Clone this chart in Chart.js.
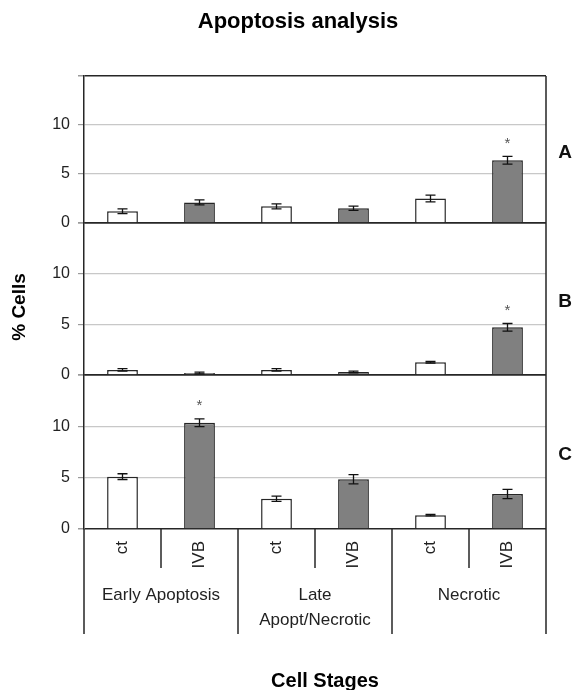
<!DOCTYPE html>
<html>
<head>
<meta charset="utf-8">
<script src="https://cdn.jsdelivr.net/npm/chart.js@4"></script>
<style>
  html, body { margin: 0; padding: 0; background: #fff; }
  canvas { display: block; }
</style>
</head>
<body>
<canvas id="chart" width="574" height="690"></canvas>
<script>
// Bar labels along the x axis and the stage groups under them
const categories = ['ct', 'IVB', 'ct', 'IVB', 'ct', 'IVB'];
const groups = [['Early Apoptosis'], ['Late', 'Apopt/Necrotic'], ['Necrotic']];

// % cells per panel (A, B, C) with error bar half-widths
const panelA = [1.2, 2.1, 1.7, 1.5, 2.5, 6.4];
const errA = [0.25, 0.25, 0.25, 0.22, 0.35, 0.4];
const panelB = [0.5, 0.2, 0.5, 0.3, 1.25, 4.7];
const errB = [0.12, 0.08, 0.12, 0.08, 0.08, 0.38];
const panelC = [5.1, 10.35, 2.95, 4.85, 1.35, 3.4];
const errC = [0.28, 0.37, 0.25, 0.45, 0.07, 0.45];

// bars marked with a significance asterisk
const starsA = [5];
const starsB = [5];
const starsC = [1];

const yTicks = [0, 5, 10, 15];

const FONT = '"Liberation Sans", Arial, sans-serif';
const dark = '#262626';
const barFill = categories.map((c) => c === 'ct' ? '#ffffff' : '#808080');

const panels = [
    { id: 'yA', letter: 'A', values: panelA, errors: errA, stars: starsA, weight: 147 },
    { id: 'yB', letter: 'B', values: panelB, errors: errB, stars: starsB, weight: 152 },
    { id: 'yC', letter: 'C', values: panelC, errors: errC, stars: starsC, weight: 154 },
];

const makeYScale = (p) => ({
    type: 'linear',
    position: 'left',
    stack: 'panels',
    stackWeight: p.weight,
    min: 0,
    max: 15,
    afterBuildTicks: (scale) => { scale.ticks = yTicks.map((v) => ({ value: v })); },
    afterFit: (scale) => { scale.width = 84; },
    grid: {
        color: (ctx) => (ctx.tick && (ctx.tick.value === 0 || ctx.tick.value === 15)) ? dark : '#c8c8c8',
        lineWidth: (ctx) => (ctx.tick && (ctx.tick.value === 0 || ctx.tick.value === 15)) ? 1.5 : 1.2,
        tickColor: '#9a9a9a',
        tickLength: 6,
    },
    border: { display: true, color: dark, width: 1.5 },
    ticks: {
        color: '#222',
        font: { family: FONT, size: 16 },
        padding: 8,
        callback: (v) => v === 15 ? '' : v,
    },
});

// error bars, asterisks and all the framing text
const decorations = {
    id: 'decorations',
    afterDatasetsDraw(chart) {
        const { ctx, chartArea, scales } = chart;
        const x = scales.x;
        const bottomEnd = 634;

        ctx.save();
        panels.forEach((p, di) => {
            const y = scales[p.id];
            const meta = chart.getDatasetMeta(di);
            ctx.strokeStyle = '#111';
            ctx.lineWidth = 1.3;
            p.values.forEach((v, i) => {
                const bx = meta.data[i].x;
                const yHi = y.getPixelForValue(v + p.errors[i]);
                const yLo = y.getPixelForValue(v - p.errors[i]);
                ctx.beginPath();
                ctx.moveTo(bx, yHi); ctx.lineTo(bx, yLo);
                ctx.moveTo(bx - 5, yHi); ctx.lineTo(bx + 5, yHi);
                ctx.moveTo(bx - 5, yLo); ctx.lineTo(bx + 5, yLo);
                ctx.stroke();
            });
            ctx.fillStyle = '#555';
            ctx.font = '15px ' + FONT;
            ctx.textAlign = 'center';
            ctx.textBaseline = 'middle';
            p.stars.forEach((i) => {
                const bx = meta.data[i].x;
                const yHi = y.getPixelForValue(p.values[i] + p.errors[i]);
                ctx.fillText('*', bx, yHi - 13);
            });
            // panel letter
            ctx.fillStyle = '#111';
            ctx.font = 'bold 19px ' + FONT;
            ctx.fillText(p.letter, 565, (y.top + y.bottom) / 2 + 3);
        });

        // right border
        ctx.strokeStyle = dark;
        ctx.lineWidth = 1.5;
        ctx.beginPath();
        ctx.moveTo(chartArea.right, chartArea.top);
        ctx.lineTo(chartArea.right, bottomEnd);
        ctx.moveTo(chartArea.left, chartArea.bottom);
        ctx.lineTo(chartArea.left, bottomEnd);
        ctx.stroke();

        // separators under the axis
        const step = (chartArea.right - chartArea.left) / categories.length;
        for (let i = 1; i < categories.length; i++) {
            const sx = chartArea.left + step * i;
            ctx.beginPath();
            ctx.moveTo(sx, chartArea.bottom);
            ctx.lineTo(sx, i % 2 === 0 ? bottomEnd : chartArea.bottom + 39);
            ctx.stroke();
        }

        // group labels
        ctx.fillStyle = '#222';
        ctx.font = '17px ' + FONT;
        ctx.textAlign = 'center';
        ctx.textBaseline = 'middle';
        groups.forEach((lines, g) => {
            const gx = (x.getPixelForValue(g * 2) + x.getPixelForValue(g * 2 + 1)) / 2;
            lines.forEach((t, k) => ctx.fillText(t, gx, 595 + k * 25));
        });

        // titles
        ctx.fillStyle = '#000';
        ctx.font = 'bold 22px ' + FONT;
        ctx.fillText('Apoptosis analysis', 298, 22);
        ctx.font = 'bold 20px ' + FONT;
        ctx.fillText('Cell Stages', 325, 681);
        ctx.translate(20, 307);
        ctx.rotate(-Math.PI / 2);
        ctx.font = 'bold 19px ' + FONT;
        ctx.fillText('% Cells', 0, 0);
        ctx.restore();
    },
};

const scales = {
    x: {
        type: 'category',
        afterFit: (scale) => { scale.height = 161; },
        grid: { display: false, drawTicks: false },
        border: { display: false },
        ticks: {
            color: '#222',
            font: { family: FONT, size: 17 },
            minRotation: 90,
            maxRotation: 90,
            autoSkip: false,
            padding: 12,
        },
    },
};
// stacked scales on the left: the last one defined ends up on top
[...panels].reverse().forEach((p) => { scales[p.id] = makeYScale(p); });

new Chart(document.getElementById('chart'), {
    type: 'bar',
    data: {
        labels: categories,
        datasets: panels.map((p) => ({
            label: p.letter,
            data: p.values,
            yAxisID: p.id,
            backgroundColor: barFill,
            borderColor: dark,
            borderWidth: 1.5,
            barPercentage: 0.4,
            categoryPercentage: 1.0,
            grouped: false,
        })),
    },
    options: {
        responsive: false,
        animation: false,
        layout: { padding: { top: 76, right: 28, bottom: 0, left: 0 } },
        plugins: {
            legend: { display: false },
            title: { display: false },
            tooltip: { enabled: false },
        },
        scales,
    },
    plugins: [decorations],
});
</script>
</body>
</html>
